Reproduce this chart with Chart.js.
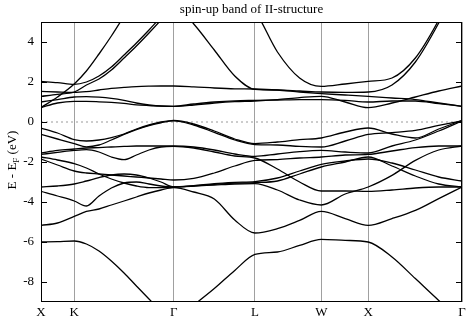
<!DOCTYPE html>
<html>
<head>
<meta charset="utf-8">
<script src="https://cdn.jsdelivr.net/npm/chart.js@4.4.1/dist/chart.umd.min.js"></script>
<style>
  html, body { margin: 0; padding: 0; background: #fff; }
  canvas { display: block; }
</style>
</head>
<body>
<canvas id="bandChart" width="471" height="324"></canvas>
<script>
// k-path positions (X-K-Γ-L-W-X-Γ, path length units)
const kPath = [0, 0.176, 0.354, 0.484, 0.618, 0.750, 0.885, 1.017, 1.151, 1.279, 1.414,
               1.628, 1.847, 2.065, 2.280, 2.520, 2.756, 2.987, 3.242, 3.487,
               3.741, 3.990, 4.239, 4.487];
const kTicks = [0, 0.354, 1.414, 2.280, 2.987, 3.487, 4.487];
const kLabels = ['X', 'K', 'Γ', 'L', 'W', 'X', 'Γ'];
const eTicks = [-8, -6, -4, -2, 0, 2, 4];

// valence bands (eV)
const v1 = [-0.30,-0.55,-0.88,-0.95,-0.90,-0.78,-0.60,-0.35,-0.15,0.00,0.08, -0.10,-0.45,-0.85,-1.08, -1.00,-0.88,-0.80, -0.50,-0.30, -0.60,-0.80,-0.35,0.08];
const v2 = [-0.62,-0.85,-1.08,-1.24,-1.15,-0.90,-0.62,-0.38,-0.18,-0.04,0.06, -0.15,-0.52,-0.90,-1.13, -1.15,-1.22,-1.25, -0.95,-0.62, -0.53,-0.42,-0.17,0.06];
const v3 = [-1.55,-1.42,-1.35,-1.30,-1.28,-1.25,-1.22,-1.20,-1.20,-1.20,-1.20, -1.25,-1.40,-1.60,-1.72, -1.60,-1.48,-1.42, -1.50,-1.55, -1.20,-0.90,-0.45,0.05];
const v4 = [-1.62,-1.52,-1.42,-1.38,-1.50,-1.75,-1.88,-1.65,-1.40,-1.25,-1.22, -1.30,-1.50,-1.70,-1.80, -2.35,-3.00,-3.45, -3.45,-3.47, -3.40,-3.30,-3.25,-3.25];
const v5 = [-1.75,-1.90,-2.08,-2.30,-2.60,-2.85,-3.05,-3.20,-3.28,-3.28,-3.25, -3.20,-3.12,-3.06,-3.03, -2.95,-2.60,-2.25, -2.00,-1.75, -2.20,-2.70,-3.10,-3.25];
const v6 = [-1.85,-2.15,-2.45,-2.55,-2.60,-2.65,-2.70,-2.75,-2.80,-2.85,-2.90, -2.82,-2.55,-2.20,-1.92, -1.88,-1.80,-1.75, -1.65,-1.62, -1.45,-1.28,-1.20,-1.20];
const v7 = [-3.25,-3.20,-3.10,-2.95,-2.78,-2.65,-2.60,-2.65,-2.80,-3.00,-3.25, -3.20,-3.15,-3.10,-3.08, -3.40,-3.90,-4.15, -3.60,-3.25, -2.67,-1.92,-1.40,-1.20];
const v8 = [-3.47,-3.70,-3.95,-4.20,-3.70,-3.30,-3.05,-3.00,-3.10,-3.20,-3.25, -3.18,-3.08,-3.02,-2.98, -2.80,-2.45,-2.12, -1.95,-1.85, -2.05,-2.40,-2.75,-2.95];
const v9 = [-5.17,-5.05,-4.72,-4.47,-4.35,-4.15,-3.95,-3.75,-3.55,-3.40,-3.28, -3.50,-3.85,-4.90,-5.55, -5.33,-4.92,-4.47, -4.83,-5.17, -4.83,-4.42,-3.83,-3.25];
const v10 = [-6.00,-5.98,-5.95,-6.10,-6.45,-6.95,-7.55,-8.20,-8.85,-9.45,-9.90, -9.15,-8.33,-7.42,-6.62, -6.50,-6.17,-5.87, -5.92,-6.00, -6.75,-7.83,-8.92,-9.90];

// conduction bands (eV)
const c1 = [0.72,0.95,1.03,1.03,1.01,0.98,0.93,0.86,0.82,0.79,0.785, 0.85,0.95,1.02,1.05, 1.12,1.22,1.285, 1.00,0.72, 0.95,1.25,1.55,1.80];
const c2 = [1.00,1.12,1.25,1.27,1.24,1.18,1.08,0.95,0.86,0.80,0.785, 0.90,1.00,1.06,1.08, 1.10,1.12,1.12, 1.08,1.00, 1.05,1.05,0.92,0.785];
const c3 = [1.53,1.50,1.48,1.52,1.60,1.68,1.73,1.77,1.79,1.80,1.80, 1.76,1.70,1.66,1.65, 1.60,1.50,1.42, 1.35,1.28, 1.20,1.12,0.95,0.785];
const c4 = [2.03,1.97,1.88,2.00,2.30,2.75,3.35,3.95,4.60,5.25,5.90, 4.90,3.60,2.30,1.63, 1.60,1.55,1.50, 1.48,1.50, 1.85,3.00,4.95,7.30];
const c5 = [1.28,1.38,1.50,1.85,2.15,2.60,3.20,3.80,4.45,5.10,5.80, null,null,null,null, null,null,null, null,null, null,null,null,null];
const c6 = [0.72,1.25,1.90,2.55,3.40,4.30,5.30,6.30,7.20,7.90,8.30, 8.00,7.30,6.40,5.55, 3.50,2.20,1.78, 1.90,2.03, 2.20,3.20,5.10,7.50];

const bands = [v1, v2, v3, v4, v5, v6, v7, v8, v9, v10, c1, c2, c3, c4, c5, c6];
const zeroLine = [0, 0];

const serif = '"Liberation Serif", "Times New Roman", serif';

const framePlugin = {
    id: 'gnuFrame',
    afterDatasetsDraw(chart) {
        const { ctx, chartArea: a, scales } = chart;
        ctx.save();
        ctx.strokeStyle = '#000';
        ctx.lineWidth = 1;
        ctx.strokeRect(a.left + 0.5, a.top + 0.5, a.right - a.left - 1, a.bottom - a.top - 1);
        ctx.beginPath();
        eTicks.forEach(v => {
            const y = Math.round(scales.y.getPixelForValue(v)) + 0.5;
            ctx.moveTo(a.left, y); ctx.lineTo(a.left + 6, y);
            ctx.moveTo(a.right - 6, y); ctx.lineTo(a.right, y);
        });
        ctx.stroke();
        ctx.restore();
    },
    afterDraw(chart) {
        const { ctx, chartArea: a } = chart;
        ctx.save();
        ctx.fillStyle = '#000';
        ctx.font = '13px ' + serif;
        ctx.textAlign = 'center';
        ctx.textBaseline = 'middle';
        ctx.fillText('spin-up band of II-structure', (a.left + a.right) / 2, 10);

        // y axis label with subscript F
        ctx.translate(13, 160);
        ctx.rotate(-Math.PI / 2);
        ctx.textAlign = 'left';
        const big = '13px ' + serif, small = '9px ' + serif;
        ctx.font = big;
        const w1 = ctx.measureText('E - E').width;
        const w3 = ctx.measureText(' (eV)').width;
        ctx.font = small;
        const w2 = ctx.measureText('F').width;
        let x = -(w1 + w2 + w3) / 2;
        ctx.font = big;
        ctx.fillText('E - E', x, 0);
        x += w1;
        ctx.font = small;
        ctx.fillText('F', x, 4);
        x += w2;
        ctx.font = big;
        ctx.fillText(' (eV)', x, 0);
        ctx.restore();
    }
};

new Chart(document.getElementById('bandChart'), {
    type: 'line',
    data: {
        datasets: [
            ...bands.map(e => ({
                data: kPath.map((k, i) => ({ x: k, y: e[i] })),
                borderColor: '#000',
                borderWidth: 1.3,
                pointRadius: 0,
                cubicInterpolationMode: 'monotone',
                fill: false
            })),
            {
                data: zeroLine.map((e, i) => ({ x: i === 0 ? kTicks[0] : kTicks[kTicks.length - 1], y: e })),
                borderColor: '#999',
                borderWidth: 1,
                borderDash: [2, 3],
                pointRadius: 0
            }
        ]
    },
    options: {
        responsive: false,
        animation: false,
        devicePixelRatio: 1,
        layout: { padding: { top: 22, right: 9, left: 0, bottom: 0 } },
        plugins: { legend: { display: false }, title: { display: false }, tooltip: { enabled: false } },
        scales: {
            x: {
                type: 'linear',
                min: kTicks[0],
                max: kTicks[kTicks.length - 1],
                afterBuildTicks: s => { s.ticks = kTicks.map(v => ({ value: v })); },
                afterFit: s => { s.height = 22; },
                ticks: {
                    autoSkip: false,
                    maxRotation: 0,
                    padding: 3,
                    color: '#000',
                    font: { family: serif, size: 13 },
                    callback: (v, i) => kLabels[i]
                },
                grid: { color: '#a0a0a0', lineWidth: 1, drawTicks: false },
                border: { display: false }
            },
            y: {
                min: -9,
                max: 5,
                afterBuildTicks: s => { s.ticks = eTicks.map(v => ({ value: v })); },
                afterFit: s => { s.width = 41; },
                ticks: {
                    padding: 7,
                    color: '#000',
                    font: { family: serif, size: 13 }
                },
                grid: { display: false, drawTicks: false },
                border: { display: false }
            }
        }
    },
    plugins: [framePlugin]
});
</script>
</body>
</html>
